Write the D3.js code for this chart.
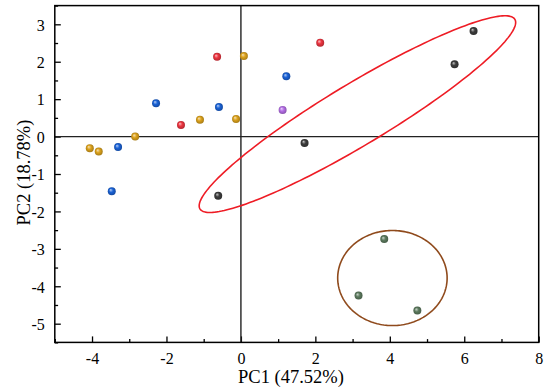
<!DOCTYPE html>
<html lang="en">
<head>
    <meta charset="UTF-8">
    <title>PCA Score Plot</title>
    <script src="https://d3js.org/d3.v7.min.js"></script>
    <style>
        body { margin: 0; background: #fff; }
        svg text { font-family: "Liberation Serif", "Times New Roman", serif; fill: #000; }
    </style>
</head>
<body>
    <div id="chart"></div>

    <script>
        // score values, one array per sample group
        var goldPts   = [[-4.06, -0.31], [-3.82, -0.40], [-2.84, 0.00], [-1.10, 0.45], [-0.13, 0.47], [0.08, 2.15]];
        var bluePts   = [[-3.30, -0.28], [-3.47, -1.46], [-2.28, 0.89], [-0.59, 0.79], [1.22, 1.61]];
        var redPts    = [[-0.64, 2.13], [-1.61, 0.31], [2.13, 2.51]];
        var purplePts = [[1.12, 0.71]];
        var darkPts   = [[6.25, 2.82], [5.74, 1.93], [1.71, -0.17], [-0.61, -1.58]];
        var greenPts  = [[3.85, -2.74], [3.16, -4.25], [4.74, -4.65]];

        var xTicks = [-4, -2, 0, 2, 4, 6, 8];
        var yTicks = [-5, -4, -3, -2, -1, 0, 1, 2, 3];

        // ellipses: centre, radii and tilt (degrees), in data units
        var redEllipse   = {cx: 3.13, cy: 0.60, rx: 4.93, ry: 0.82, angle: 30.9};
        var brownEllipse = {cx: 4.07, cy: -3.78, rx: 1.47, ry: 1.27, angle: 0};

        var series = [
            {pts: goldPts, color: "#dca21c"},
            {pts: bluePts, color: "#1a62d6"},
            {pts: redPts, color: "#ec3540"},
            {pts: purplePts, color: "#b46ee6"},
            {pts: darkPts, color: "#3c3c3c"},
            {pts: greenPts, color: "#5c7a5e"}
        ];

        var width = 550,
            height = 390,
            margin = {top: 5.6, right: 11.3, bottom: 47.6, left: 54.8};

        var x = d3.scaleLinear().domain([-5, 8]).range([margin.left, width - margin.right]);
        var y = d3.scaleLinear().domain([-5.5, 3.5]).range([height - margin.bottom, margin.top]);

        var svg = d3.select("#chart").append("svg")
            .attr("width", width)
            .attr("height", height);

        // sphere-looking markers
        var defs = svg.append("defs");
        series.forEach(function(s, i) {
            var g = defs.append("radialGradient")
                .attr("id", "ball" + i)
                .attr("cx", "50%").attr("cy", "50%").attr("r", "55%")
                .attr("fx", "35%").attr("fy", "32%");
            g.append("stop").attr("offset", "0%").attr("stop-color", d3.interpolateRgb(s.color, "#fff")(0.7));
            g.append("stop").attr("offset", "45%").attr("stop-color", s.color);
            g.append("stop").attr("offset", "100%").attr("stop-color", d3.color(s.color).darker(0.9));
        });

        var fmt = function(d) { return d < 0 ? "-" + Math.abs(d) : String(d); };

        // axes
        var xAxis = d3.axisBottom(x).tickValues(xTicks).tickSize(-6).tickPadding(10).tickFormat(fmt);
        var yAxis = d3.axisLeft(y).tickValues(yTicks).tickSize(-6).tickPadding(10).tickFormat(fmt);
        var xMinor = d3.axisBottom(x).tickValues(d3.range(-5, 9, 1).filter(function(v) { return v % 2 !== 0; })).tickSize(-3.3).tickFormat("");
        var yMinor = d3.axisLeft(y).tickValues(d3.range(-5.5, 3.6, 1)).tickSize(-3.3).tickFormat("");

        function styleAxis(g) {
            g.attr("font-family", "Liberation Serif").attr("font-size", 16);
            g.select(".domain").remove();
            g.selectAll("line").attr("stroke", "#000").attr("stroke-width", 1.3);
        }

        svg.append("g").attr("transform", "translate(0," + y.range()[0] + ")").call(xMinor).call(styleAxis);
        svg.append("g").attr("transform", "translate(" + x.range()[0] + ",0)").call(yMinor).call(styleAxis);
        svg.append("g").attr("transform", "translate(0," + y.range()[0] + ")").call(xAxis).call(styleAxis)
            .selectAll("text").attr("dy", "0.75em");
        svg.append("g").attr("transform", "translate(" + x.range()[0] + ",0)").call(yAxis).call(styleAxis)
            .selectAll("text").attr("dy", "0.36em");

        // zero lines
        svg.append("line")
            .attr("x1", x(0)).attr("x2", x(0))
            .attr("y1", y.range()[0]).attr("y2", y.range()[1])
            .attr("stroke", "#222").attr("stroke-width", 1.4);
        svg.append("line")
            .attr("x1", x.range()[0]).attr("x2", x.range()[1])
            .attr("y1", y(0)).attr("y2", y(0))
            .attr("stroke", "#222").attr("stroke-width", 1.4);

        // frame
        svg.append("rect")
            .attr("x", x.range()[0]).attr("y", y.range()[1])
            .attr("width", x.range()[1] - x.range()[0])
            .attr("height", y.range()[0] - y.range()[1])
            .attr("fill", "none").attr("stroke", "#000").attr("stroke-width", 1.5);

        // ellipses
        function ellipsePoints(e) {
            var t = e.angle * Math.PI / 180;
            return d3.range(0, 201).map(function(i) {
                var a = i / 200 * 2 * Math.PI,
                    u = e.rx * Math.cos(a),
                    v = e.ry * Math.sin(a);
                return [e.cx + u * Math.cos(t) - v * Math.sin(t), e.cy + u * Math.sin(t) + v * Math.cos(t)];
            });
        }
        var line = d3.line().x(function(d) { return x(d[0]); }).y(function(d) { return y(d[1]); });

        svg.append("path")
            .attr("d", line(ellipsePoints(redEllipse)))
            .attr("fill", "none").attr("stroke", "#ee1c25").attr("stroke-width", 1.6);
        svg.append("path")
            .attr("d", line(ellipsePoints(brownEllipse)))
            .attr("fill", "none").attr("stroke", "#8f4a1c").attr("stroke-width", 1.6);

        // points
        series.forEach(function(s, i) {
            svg.append("g").selectAll("circle")
                .data(s.pts)
                .join("circle")
                .attr("cx", function(d) { return x(d[0]); })
                .attr("cy", function(d) { return y(d[1]); })
                .attr("r", 4)
                .attr("fill", "url(#ball" + i + ")");
        });

        // axis titles
        svg.append("text")
            .attr("x", 291).attr("y", 383)
            .attr("text-anchor", "middle")
            .attr("font-size", "18.5px")
            .text("PC1 (47.52%)");
        svg.append("text")
            .attr("transform", "translate(30,172.5) rotate(-90)")
            .attr("text-anchor", "middle")
            .attr("font-size", "18.5px")
            .text("PC2 (18.78%)");
    </script>
</body>
</html>
